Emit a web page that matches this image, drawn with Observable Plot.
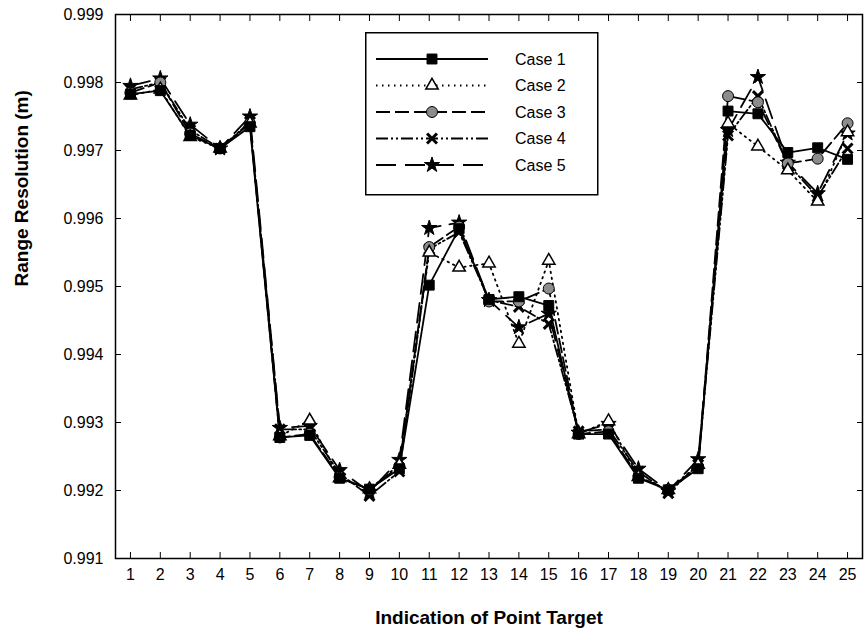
<!DOCTYPE html>
<html><head><meta charset="utf-8">
<script src="https://cdn.jsdelivr.net/npm/d3@7"></script>
<script src="https://cdn.jsdelivr.net/npm/@observablehq/plot@0.6"></script>
<style>
body{margin:0;background:#fff;font-family:Arial,"Liberation Sans",sans-serif;}
#wrap{position:relative;width:867px;height:643px;}
#legend{position:absolute;left:365px;top:32px;}
</style></head><body><div id="wrap"></div>
<script>
const targets = [1,2,3,4,5,6,7,8,9,10,11,12,13,14,15,16,17,18,19,20,21,22,23,24,25];
const yTicks = [0.991,0.992,0.993,0.994,0.995,0.996,0.997,0.998,0.999];
const caseNames = ["Case 1","Case 2","Case 3","Case 4","Case 5"];
const case1 = [0.99783,0.99788,0.99722,0.99703,0.99735,0.99278,0.99281,0.99218,0.99202,0.99232,0.99502,0.99585,0.99481,0.99485,0.99472,0.99283,0.99283,0.99218,0.99201,0.99232,0.99758,0.99754,0.99697,0.99704,0.99687];
const case2 = [0.99781,0.99790,0.99720,0.99703,0.99740,0.99280,0.99303,0.99218,0.99202,0.99238,0.99550,0.99528,0.99534,0.99416,0.99538,0.99283,0.99302,0.99220,0.99201,0.99238,0.99740,0.99706,0.99671,0.99625,0.99727];
const case3 = [0.99785,0.99800,0.99725,0.99703,0.99740,0.99278,0.99283,0.99220,0.99201,0.99236,0.99558,0.99588,0.99478,0.99478,0.99497,0.99283,0.99287,0.99220,0.99201,0.99235,0.99780,0.99771,0.99681,0.99688,0.99740];
const case4 = [0.99790,0.99800,0.99730,0.99703,0.99742,0.99290,0.99290,0.99225,0.99192,0.99228,0.99555,0.99580,0.99480,0.99470,0.99445,0.99287,0.99290,0.99228,0.99196,0.99238,0.99722,0.99780,0.99680,0.99632,0.99703];
const case5 = [0.99795,0.99806,0.99738,0.99703,0.99750,0.99292,0.99295,0.99230,0.99198,0.99245,0.99586,0.99594,0.99480,0.99440,0.99460,0.99285,0.99298,0.99232,0.99199,0.99246,0.99730,0.99808,0.99682,0.99637,0.99725];

const series = [case1,case2,case3,case4,case5];
const styles = [
  {dash:null, symbol:"square", fill:"black", stroke:"black", sw:1, r:5.6},
  {dash:"1.5,4.5", symbol:"triangle", fill:"white", stroke:"black", sw:1.5, r:4.6},
  {dash:"14,5", symbol:"circle", fill:"#8c8c8c", stroke:"black", sw:1, r:5.5},
  {dash:"12,3,2,3,2,3", symbol:"times", fill:"none", stroke:"black", sw:3, r:4.6},
  {dash:"20,9", symbol:"star", fill:"black", stroke:"black", sw:1, r:4.8}
];

const marks = [];
for (let k = series.length - 1; k >= 0; k--) {
  const data = series[k].map((v,i) => ({t: targets[i], v}));
  const s = styles[k];
  marks.push(Plot.line(data, {x:"t", y:"v", stroke:"black", strokeWidth:1.8, strokeDasharray:s.dash}));
}
for (let k = series.length - 1; k >= 0; k--) {
  const data = series[k].map((v,i) => ({t: targets[i], v}));
  const s = styles[k];
  marks.push(Plot.dot(data, {x:"t", y:"v", symbol:s.symbol, r:s.r, fill:s.fill, stroke:s.stroke, strokeWidth:s.sw}));
}

const chart = Plot.plot({
  width: 867, height: 643,
  marginTop: 14, marginBottom: 85, marginLeft: 115, marginRight: 5,
  style: {fontFamily: "Arial, 'Liberation Sans', sans-serif", fontSize: "16px", color: "black", background: "white"},
  x: {domain: [0.5, 25.5]},
  y: {domain: [0.991, 0.999]},
  marks: [
    Plot.frame({stroke: "black", strokeWidth: 1.5}),
    Plot.axisX(targets, {anchor: "bottom", tickSize: -6, tickPadding: 16, label: null, fontSize: 16}),
    Plot.axisX(targets, {anchor: "top", tickSize: -6, tickFormat: () => "", label: null}),
    Plot.axisY(yTicks, {anchor: "left", tickSize: -6, tickPadding: 18, tickFormat: d3.format(".3f"), label: null, fontSize: 16}),
    Plot.axisY(yTicks, {anchor: "right", tickSize: -6, tickFormat: () => "", label: null}),
    Plot.text(["Indication of Point Target"], {frameAnchor: "bottom", dy: 65, fontWeight: "bold", fontSize: 19}),
    Plot.text(["Range Resolution (m)"], {frameAnchor: "left", dx: -94, rotate: -90, fontWeight: "bold", fontSize: 19}),
    ...marks
  ]
});
document.getElementById("wrap").appendChild(chart);

// legend
const lg = d3.select("#wrap").append("svg").attr("id","legend").attr("width",234).attr("height",164);
lg.append("rect").attr("x",0.75).attr("y",0.75).attr("width",232).attr("height",162).attr("fill","white").attr("stroke","black").attr("stroke-width",1.5);
caseNames.forEach((name,k) => {
  const s = styles[k];
  const y = 27 + k*26.5;
  lg.append("line").attr("x1",11).attr("x2",123).attr("y1",y).attr("y2",y).attr("stroke","black").attr("stroke-width",1.8).attr("stroke-dasharray",s.dash);
  const sym = {square:d3.symbolSquare, triangle:d3.symbolTriangle, circle:d3.symbolCircle, times:d3.symbolTimes, star:d3.symbolStar}[s.symbol];
  lg.append("path").attr("transform",`translate(67,${y})`).attr("d", d3.symbol(sym, Math.PI*s.r*s.r)()).attr("fill",s.fill).attr("stroke",s.stroke).attr("stroke-width",s.sw);
  lg.append("text").attr("x",150).attr("y",y).attr("dy","0.35em").attr("font-size",16).attr("font-family","Arial, 'Liberation Sans', sans-serif").text(name);
});
</script>
</body></html>
